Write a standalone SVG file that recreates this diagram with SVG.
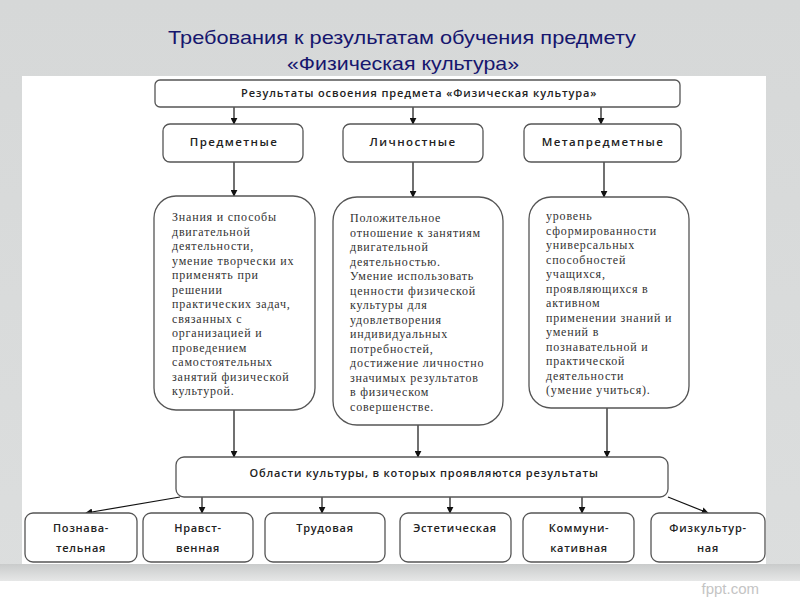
<svg xmlns="http://www.w3.org/2000/svg" width="800" height="600" viewBox="0 0 800 600">
<defs>
<linearGradient id="bg" x1="0" y1="0" x2="0" y2="1">
<stop offset="0" stop-color="#d6d8d8"/><stop offset="1" stop-color="#dcdede"/>
</linearGradient>
<linearGradient id="band" x1="0" y1="0" x2="0" y2="1">
<stop offset="0" stop-color="#c9cbcb"/><stop offset="1" stop-color="#e6e7e7"/>
</linearGradient>
<marker id="ah" viewBox="0 0 10 10" refX="9" refY="5" markerWidth="7" markerHeight="7" orient="auto" markerUnits="userSpaceOnUse">
<path d="M0,0 L10,5 L0,10 z" fill="#111"/>
</marker>
</defs>
<style>
.box{fill:#fff;stroke:#555;stroke-width:1.3}
.hd{font-family:"Open Sans","Liberation Sans",sans-serif;font-size:11px;font-weight:600;fill:#222;letter-spacing:0.7px;text-anchor:middle}
.hh{font-size:11.5px;letter-spacing:1.4px}
.bd{font-family:"Liberation Serif","DejaVu Serif",serif;font-size:12px;fill:#333;letter-spacing:0.8px}
.cn{stroke:#111;stroke-width:1.2;fill:none;marker-end:url(#ah)}
.ttl{font-family:"Liberation Sans",Arial,sans-serif;font-size:19px;fill:#16166e;text-anchor:middle}
</style>
<rect width="800" height="600" fill="url(#bg)"/>
<rect x="0" y="564" width="800" height="17" fill="url(#band)"/>
<rect x="0" y="581" width="800" height="19" fill="#fff"/>
<rect x="22" y="76" width="744" height="488" fill="#fff"/>
<text x="759" y="594" font-family="Liberation Sans,Arial,sans-serif" font-size="15" fill="#c4c4c4" text-anchor="end">fppt.com</text>
<text class="ttl" x="402" y="44" textLength="468" lengthAdjust="spacingAndGlyphs">Требования к результатам обучения предмету</text>
<text class="ttl" x="403" y="70" textLength="232" lengthAdjust="spacingAndGlyphs">«Физическая культура»</text>

<g id="connectors">
<line class="cn" x1="234" y1="107" x2="234" y2="124"/>
<line class="cn" x1="413" y1="107" x2="413" y2="124"/>
<line class="cn" x1="601" y1="107" x2="601" y2="124"/>
<line class="cn" x1="234" y1="162" x2="234" y2="196"/>
<line class="cn" x1="413" y1="162" x2="413" y2="197"/>
<line class="cn" x1="604" y1="162" x2="604" y2="197"/>
<line class="cn" x1="234" y1="410" x2="234" y2="457"/>
<line class="cn" x1="418" y1="425" x2="418" y2="457"/>
<line class="cn" x1="607" y1="408" x2="607" y2="457"/>
<line class="cn" x1="180" y1="497" x2="86" y2="513"/>
<line class="cn" x1="202" y1="497" x2="202" y2="513"/>
<line class="cn" x1="322" y1="497" x2="322" y2="513"/>
<line class="cn" x1="450" y1="497" x2="450" y2="513"/>
<line class="cn" x1="582" y1="497" x2="582" y2="513"/>
<line class="cn" x1="668" y1="497" x2="708" y2="513"/>
</g>

<g id="n-top">
<rect class="box" x="155" y="80" width="525" height="27" rx="5"/>
<text class="hd" x="419" y="97" textLength="356">Результаты освоения предмета «Физическая культура»</text>
</g>
<g id="n-pred">
<rect class="box" x="163" y="124" width="140" height="38" rx="7"/>
<text class="hd hh" x="234" y="146">Предметные</text>
</g>
<g id="n-lich">
<rect class="box" x="343" y="124" width="140" height="38" rx="7"/>
<text class="hd hh" x="413" y="146">Личностные</text>
</g>
<g id="n-meta">
<rect class="box" x="524" y="124" width="157" height="38" rx="7"/>
<text class="hd hh" x="603" y="146">Метапредметные</text>
</g>

<g id="n-pred-text">
<rect class="box" x="154" y="196" width="161" height="214" rx="22"/>
<text class="bd">
<tspan x="172" y="221">Знания и способы</tspan>
<tspan x="172" y="235.5">двигательной</tspan>
<tspan x="172" y="250">деятельности,</tspan>
<tspan x="172" y="264.5">умение творчески их</tspan>
<tspan x="172" y="279">применять при</tspan>
<tspan x="172" y="293.5">решении</tspan>
<tspan x="172" y="308">практических задач,</tspan>
<tspan x="172" y="322.5">связанных с</tspan>
<tspan x="172" y="337">организацией и</tspan>
<tspan x="172" y="351.5">проведением</tspan>
<tspan x="172" y="366">самостоятельных</tspan>
<tspan x="172" y="380.5">занятий физической</tspan>
<tspan x="172" y="395">культурой.</tspan>
</text>
</g>
<g id="n-lich-text">
<rect class="box" x="333" y="197" width="170" height="228" rx="24"/>
<text class="bd">
<tspan x="350" y="222">Положительное</tspan>
<tspan x="350" y="236.5">отношение к занятиям</tspan>
<tspan x="350" y="251">двигательной</tspan>
<tspan x="350" y="265.5">деятельностью.</tspan>
<tspan x="350" y="280">Умение использовать</tspan>
<tspan x="350" y="294.5">ценности физической</tspan>
<tspan x="350" y="309">культуры для</tspan>
<tspan x="350" y="323.5">удовлетворения</tspan>
<tspan x="350" y="338">индивидуальных</tspan>
<tspan x="350" y="352.5">потребностей,</tspan>
<tspan x="350" y="367">достижение личностно</tspan>
<tspan x="350" y="381.5">значимых результатов</tspan>
<tspan x="350" y="396">в физическом</tspan>
<tspan x="350" y="410.5">совершенстве.</tspan>
</text>
</g>
<g id="n-meta-text">
<rect class="box" x="529" y="197" width="160" height="211" rx="22"/>
<text class="bd">
<tspan x="546" y="220">уровень</tspan>
<tspan x="546" y="234.5">сформированности</tspan>
<tspan x="546" y="249">универсальных</tspan>
<tspan x="546" y="263.5">способностей</tspan>
<tspan x="546" y="278">учащихся,</tspan>
<tspan x="546" y="292.5">проявляющихся в</tspan>
<tspan x="546" y="307">активном</tspan>
<tspan x="546" y="321.5">применении знаний и</tspan>
<tspan x="546" y="336">умений в</tspan>
<tspan x="546" y="350.5">познавательной и</tspan>
<tspan x="546" y="365">практической</tspan>
<tspan x="546" y="379.5">деятельности</tspan>
<tspan x="546" y="394">(умение учиться).</tspan>
</text>
</g>

<g id="n-oblasti">
<rect class="box" x="176" y="457" width="492" height="40" rx="8"/>
<text class="hd" x="424" y="477" textLength="349">Области культуры, в которых проявляются результаты</text>
</g>
<g id="n-pozn">
<rect class="box" x="25" y="513" width="112" height="49" rx="8"/>
<text class="hd"><tspan x="81" y="532">Познава-</tspan><tspan x="81" y="552">тельная</tspan></text>
</g>
<g id="n-nravst">
<rect class="box" x="143" y="513" width="110" height="49" rx="8"/>
<text class="hd"><tspan x="198" y="532">Нравст-</tspan><tspan x="198" y="552">венная</tspan></text>
</g>
<g id="n-trud">
<rect class="box" x="265" y="513" width="120" height="49" rx="8"/>
<text class="hd" x="325" y="532">Трудовая</text>
</g>
<g id="n-estet">
<rect class="box" x="400" y="513" width="111" height="49" rx="8"/>
<text class="hd" x="455" y="532">Эстетическая</text>
</g>
<g id="n-kommun">
<rect class="box" x="523" y="513" width="111" height="49" rx="8"/>
<text class="hd"><tspan x="579" y="532">Коммуни-</tspan><tspan x="579" y="552">кативная</tspan></text>
</g>
<g id="n-fizk">
<rect class="box" x="651" y="513" width="114" height="49" rx="8"/>
<text class="hd"><tspan x="708" y="532">Физкультур-</tspan><tspan x="708" y="552">ная</tspan></text>
</g>
</svg>
